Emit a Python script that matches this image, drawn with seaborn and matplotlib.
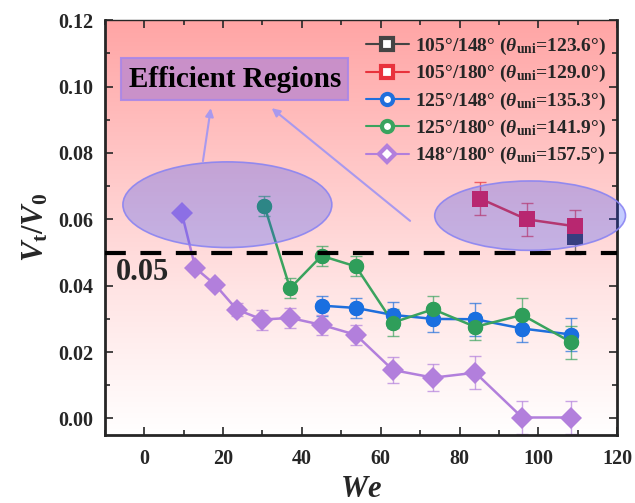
import numpy as np
import pandas as pd
import seaborn as sns
import matplotlib
matplotlib.use('Agg')
from matplotlib import pyplot as plt
from matplotlib.patches import Ellipse
from matplotlib.lines import Line2D
from matplotlib.ticker import MultipleLocator

# data
labels = ['105°/148°', '105°/180°', '125°/148°', '125°/180°', '148°/180°']
theta = ['123.6°', '129.0°', '135.3°', '141.9°', '157.5°']

we_105_148 = [109.3]
v_105_148 = [0.0546]
err_105_148 = [0.005]

we_105_180 = [85.3, 97.0, 109.3]
v_105_180 = [0.0662, 0.0600, 0.0579]
err_105_180 = [0.005, 0.005, 0.005]

we_125_148 = [45.0, 53.7, 63.1, 73.3, 84.0, 95.9, 108.3]
v_125_148 = [0.0340, 0.0333, 0.0312, 0.0300, 0.0299, 0.0271, 0.0253]
err_125_148 = [0.003, 0.003, 0.004, 0.004, 0.005, 0.004, 0.005]

we_125_180 = [30.5, 37.0, 45.0, 53.7, 63.1, 73.3, 84.0, 95.9, 108.3]
v_125_180 = [0.0640, 0.0392, 0.0490, 0.0458, 0.0289, 0.0329, 0.0276, 0.0312, 0.0230]
err_125_180 = [0.003, 0.003, 0.003, 0.003, 0.004, 0.004, 0.004, 0.005, 0.005]

we_148_180 = [9.5, 13.0, 18.0, 23.5, 30.0, 37.0, 45.0, 53.7, 63.1, 73.3, 84.0, 95.9, 108.3]
v_148_180 = [0.0620, 0.0453, 0.0403, 0.0328, 0.0298, 0.0303, 0.0282, 0.0252, 0.0146, 0.0123, 0.0138, 0.0003, 0.0003]
err_148_180 = [0.001, 0.001, 0.001, 0.002, 0.003, 0.003, 0.003, 0.003, 0.004, 0.004, 0.005, 0.005, 0.005]

line_colors = ['#444444', '#e8323c', '#1f6fdc', '#3aa35e', '#b27fdc']
marker_colors = ['#3c3c50', '#ee1c3c', '#1a6fe0', '#2f9e5a', '#b27fdc']
markers = ['s', 's', 'o', 'o', 'D']

series = [
    (we_105_148, v_105_148, err_105_148),
    (we_105_180, v_105_180, err_105_180),
    (we_125_148, v_125_148, err_125_148),
    (we_125_180, v_125_180, err_125_180),
    (we_148_180, v_148_180, err_148_180),
]

rows = []
for lab, (x, y, e) in zip(labels, series):
    for xi, yi, ei in zip(x, y, e):
        rows.append({'We': xi, 'V': yi, 'err': ei, 'group': lab})
df = pd.DataFrame(rows)

sns.set_style('ticks')
plt.rcParams['font.family'] = ['Liberation Serif', 'DejaVu Serif']
plt.rcParams['font.weight'] = 'bold'
plt.rcParams['mathtext.fontset'] = 'custom'
plt.rcParams['mathtext.rm'] = 'Liberation Serif:bold'
plt.rcParams['mathtext.it'] = 'Liberation Serif:italic:bold'
plt.rcParams['mathtext.bf'] = 'Liberation Serif:bold'

fig = plt.figure(figsize=(6.35, 5.03), dpi=100)
ax = fig.add_axes([0.165, 0.135, 0.807, 0.825])

# background gradient
grad = np.linspace(0, 1, 256).reshape(-1, 1)
cmap = matplotlib.colors.LinearSegmentedColormap.from_list(
    'bg', [(0, '#ffffff'), (0.35, '#ffe4e4'), (1, '#ffa5a5')])
ax.imshow(grad, extent=[-10, 120, -0.005, 0.12], origin='lower', aspect='auto', cmap=cmap, zorder=0)

for i, lab in enumerate(labels):
    sub = df[df['group'] == lab]
    ax.errorbar(sub['We'], sub['V'], yerr=sub['err'], fmt='none', ecolor=line_colors[i],
                elinewidth=1.0, capsize=4, capthick=1.0, alpha=0.7, zorder=2)

sns.lineplot(data=df, x='We', y='V', hue='group', style='group', hue_order=labels,
             palette=dict(zip(labels, line_colors)), markers=dict(zip(labels, markers)),
             dashes=False, linewidth=1.8, markersize=11, markeredgewidth=0,
             legend=False, ax=ax, zorder=3)
# recolour the markers
for i, lab in enumerate(labels):
    sub = df[df['group'] == lab]
    ax.plot(sub['We'], sub['V'], linestyle='none', marker=markers[i],
            markersize=11 if markers[i] != 'D' else 10, color=marker_colors[i],
            markeredgewidth=0, zorder=4)

ax.axhline(0.05, color='black', linestyle=(0, (5, 3.5)), linewidth=3, zorder=5)
ax.text(-7.3, 0.044, '0.05', fontsize=22, fontweight='bold', va='center', ha='left', zorder=6)

# efficient region ellipses
for cx, cy, w, h in [(21.1, 0.0644, 53, 0.0258), (97.9, 0.0611, 48.4, 0.0209)]:
    ax.add_patch(Ellipse((cx, cy), w, h, facecolor='#2846ff', edgecolor='none',
                         alpha=0.27, zorder=5, clip_on=False))
    ax.add_patch(Ellipse((cx, cy), w, h, facecolor='none', edgecolor='#8a84f2',
                         alpha=0.9, linewidth=1.2, zorder=5, clip_on=False))

ax.text(23.0, 0.1022, 'Efficient Regions', fontsize=21, fontweight='bold', ha='center', va='center',
        color='black', zorder=7,
        bbox=dict(boxstyle='square,pad=0.25', facecolor='#c38dcc', edgecolor='#a987e8',
                  linewidth=1.5, alpha=0.9))
ax.annotate('', xy=(17, 0.0943), xytext=(14.8, 0.0767),
            arrowprops=dict(arrowstyle='-|>', color='#a999ee', lw=1.5, mutation_scale=12), zorder=6)
ax.annotate('', xy=(31.8, 0.0940), xytext=(68, 0.0590),
            arrowprops=dict(arrowstyle='-|>', color='#a999ee', lw=1.5, mutation_scale=12), zorder=6)

ax.set_xlim(-10, 120)
ax.set_ylim(-0.005, 0.12)
ax.xaxis.set_major_locator(MultipleLocator(20))
ax.xaxis.set_minor_locator(MultipleLocator(10))
ax.yaxis.set_major_locator(MultipleLocator(0.02))
ax.yaxis.set_minor_locator(MultipleLocator(0.01))
ax.tick_params(which='both', direction='in', top=True, right=True, labelsize=14.5, width=1.2)
ax.tick_params(which='major', length=6)
ax.tick_params(which='minor', length=3.5)
ax.tick_params(axis='x', pad=10)
ax.tick_params(axis='y', pad=8)
ax.set_yticks(np.arange(0, 0.121, 0.02))
ax.set_yticklabels(['%.2f' % v for v in np.arange(0, 0.121, 0.02)])
for t in ax.get_xticklabels() + ax.get_yticklabels():
    t.set_fontweight('bold')
for s in ['left', 'bottom', 'right']:
    ax.spines[s].set_linewidth(2)
ax.spines['top'].set_linewidth(1)
ax.set_xlabel('$We$', fontsize=22, labelpad=4)
ax.set_ylabel('$V_\\mathrm{t}/V_0$', fontsize=22, labelpad=6)

handles = [Line2D([0], [0], color=line_colors[i], lw=1.5, marker=markers[i],
                  markersize=8, markerfacecolor='white',
                  markeredgecolor=line_colors[i], markeredgewidth=3)
           for i in range(len(labels))]
leg_labels = ['%s ($\\theta_{\\mathrm{uni}}$=%s)' % (l, t) for l, t in zip(labels, theta)]
ax.legend(handles, leg_labels, loc='upper right', bbox_to_anchor=(1.0, 0.99), frameon=False,
          fontsize=14, handlelength=2.2, labelspacing=0.32, handletextpad=0.3, borderaxespad=0.2)

fig.savefig('out.png', dpi=100)
